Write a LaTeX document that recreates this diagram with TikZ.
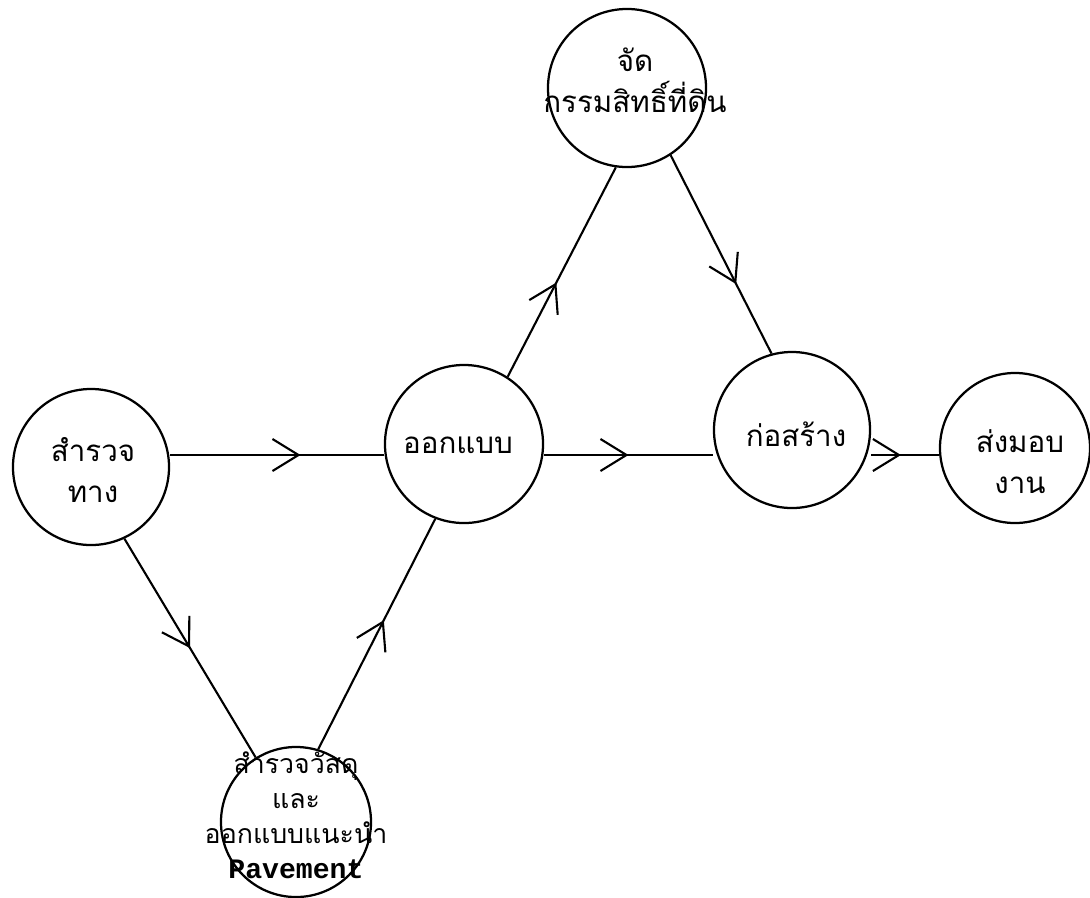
\documentclass[tikz,border=0pt]{standalone}
\usepackage{fontspec}
\usetikzlibrary{arrows.meta,decorations.markings}
\newfontfamily\thaifont[Script=Thai]{Loma}
\newfontfamily\typefont{Liberation Mono}

\tikzset{
  stage/.style={draw,circle,line width=1.6pt,inner sep=0pt},
  txt/.style={align=center,inner sep=0pt,font=\thaifont\fontsize{21}{29}\selectfont},
  flow/.style={line width=1.5pt,postaction={decorate},
    decoration={markings,mark=at position #1 with {\arrow{Straight Barb[length=6.5mm,width=8mm,line width=1.5pt]}}}}
}

\begin{document}
\begin{tikzpicture}[x=0.025cm,y=-0.025cm]
\useasboundingbox (0,0) rectangle (1090,897);

\node[stage,minimum size=3.9cm] (survey) at (91,467) {};
\node[stage,minimum size=3.95cm] (design) at (464,444) {};
\node[stage,minimum size=3.95cm] (land) at (627,88) {};
\node[stage,minimum size=3.9cm] (build) at (792,430) {};
\node[stage,minimum size=3.75cm] (handover) at (1015,448) {};
\node[stage,minimum size=3.75cm] (pave) at (296,822) {};

\node[txt] (survey-t) at (93,470) {สำรวจ\\ทาง};
\node[txt] (design-t) at (458,445) {ออกแบบ};
\node[txt] (land-t) at (635,80) {จัด\\กรรมสิทธิ์ที่ดิน};
\node[txt] (build-t) at (796,434) {ก่อสร้าง};
\node[txt] (handover-t) at (1020,462) {ส่งมอบ\\งาน};
\node[txt,font=\thaifont\fontsize{19}{25}\selectfont] (pave-t) at (296,815)
  {สำรวจวัสดุ\\และ\\ออกแบบแนะนำ\\{\typefont\bfseries\fontsize{20}{25}\selectfont Pavement}};

\coordinate (row) at (0,455);
\draw[flow=0.61] (survey.east |- row) -- (design.west |- row);
\draw[flow=0.5] (design.east |- row) -- (build.west |- row);
\draw[flow=0.44] (build.east |- row) -- (handover.west |- row);
\draw[flow=0.5] (survey.295) -- (pave.122);
\draw[flow=0.56] (pave.73) -- (design.249);
\draw[flow=0.45] (design.57) -- (land.262);
\draw[flow=0.65] (land.303) -- (build.105);

\end{tikzpicture}
\end{document}
